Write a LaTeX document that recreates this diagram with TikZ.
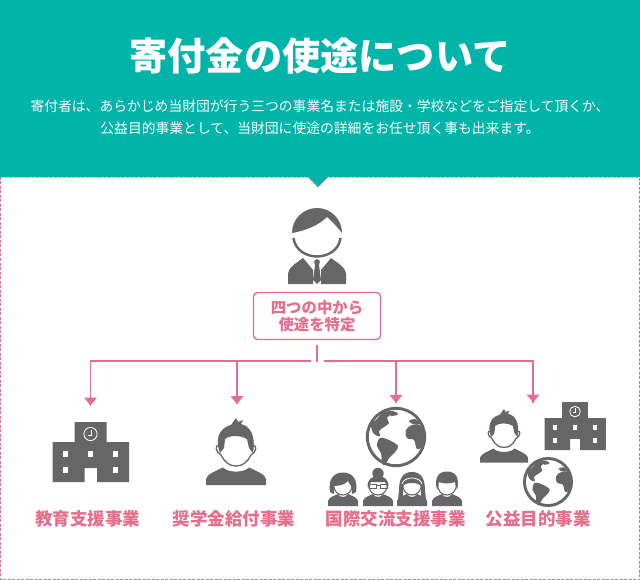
\documentclass[tikz,border=0pt]{standalone}
\usepackage{fontspec}
\setmainfont{Noto Sans CJK JP}
\definecolor{teal1}{HTML}{00B4A9}
\definecolor{pink1}{HTML}{E66E8C}
\definecolor{gray1}{HTML}{666666}
\tikzset{
 x=1pt,y=-1pt,
 conn/.style={draw=pink1,line width=1.9pt},
 tipend/.style={fill=pink1},
 lab/.style={text=pink1,font=\fontsize{17.5}{18}\selectfont\bfseries,inner sep=0pt},
 school/.pic={
  \fill[gray1] (-38,20)--(-16,20)--(-16,0)--(16,0)--(16,20)--(38.5,20)--(38.5,60)--(6.5,60)--(6.5,46)--(-6,46)--(-6,60)--(-38,60)--cycle;
  \foreach \px in {-25,0,25}{\fill[white] (\px-2.7,29)rectangle(\px+2.7,35);}
  \foreach \px in {-25,25}{\fill[white] (\px-2.7,45)rectangle(\px+2.7,51);}
  \draw[white,line width=.8pt] (0,12) circle (6.6);
  \draw[white,line width=.8pt] (1,7.5)--(1,13)--(-3,13);
 },
 spiky/.pic={
  \fill[gray1] (-30,40)--(-30,34) .. controls (-29,29) and (-20,26) .. (-13,22.5) .. controls (-8,28) and (8,28) .. (13,22.5) .. controls (20,26) and (29,29) .. (30,34)--(30,40)--cycle;
  \fill[white] (-17,1) .. controls (-21,-1) and (-21,7) .. (-15,10) .. controls (-11,18) and (-6,21) .. (0,21) .. controls (6,21) and (11,18) .. (15,10) .. controls (21,7) and (21,-1) .. (17,1) -- (0,-8)--cycle;
  \draw[gray1,line width=1.3pt] (-17,1) .. controls (-21,-1) and (-21,7) .. (-15,10) .. controls (-11,18) and (-6,21) .. (0,21) .. controls (6,21) and (11,18) .. (15,10) .. controls (21,7) and (21,-1) .. (17,1);
  \fill[gray1] (-16,8) .. controls (-20,-2) and (-20,-16) .. (-5,-20) -- (0,-27) -- (2,-23) -- (7,-25) -- (5,-21) .. controls (14,-19) and (20,-10) .. (17,8) -- (13,3) -- (11,-6) .. controls (4,-10) and (-6,-10) .. (-11,-6) -- (-12,3) -- cycle;
 },
 globe/.pic={
  \draw[gray1,line width=2.9pt] (0,0) circle (28.7);
  \fill[gray1] plot[smooth cycle,tension=.6] coordinates {(-25,-12)(-20,-17)(-12,-25)(-4,-24)(-9,-19)(-7,-14)(-12,-10)(-17,-6)(-16,-1)(-22,-3)};
  \fill[gray1] plot[smooth cycle,tension=.6] coordinates {(-16,1)(-7,3)(2,9)(-1,15)(-7,21)(-11,28)(-14,26)(-15,16)(-19,9)};
  \fill[gray1] plot[smooth cycle,tension=.6] coordinates {(10,-7)(16,-12)(24,-12)(28,-4)(28,8)(21,12)(18,3)(11,1)};
  \fill[gray1] plot[smooth cycle,tension=.6] coordinates {(13,-16)(19,-18)(24,-13)(17,-13)};
  \fill[gray1] plot[smooth cycle,tension=.6] coordinates {(-10,-25)(-3,-26)(2,-23)(-4,-21)};
 },
 minibody/.pic={
  \fill[gray1] (-15,19)--(-15,14) .. controls (-14,10) and (-9,9) .. (-5,7) .. controls (-3,11) and (3,11) .. (5,7) .. controls (9,9) and (14,10) .. (15,14)--(15,19)--cycle;
  \fill[white] (-9,-3) .. controls (-10,4) and (-5,8) .. (0,8) .. controls (5,8) and (10,4) .. (9,-3)--(0,-8)--cycle;
  \draw[gray1,line width=1.1pt] (-9,-3) .. controls (-10,4) and (-5,8) .. (0,8) .. controls (5,8) and (10,4) .. (9,-3);
 }
}
\begin{document}
\begin{tikzpicture}
\useasboundingbox (0,0) rectangle (640,580);
\fill[white] (0,0) rectangle (640,580);
\draw[pink1,line width=.8pt,dash pattern=on 3pt off 1.5pt] (.5,177)--(.5,579.5)--(639.5,579.5)--(639.5,177);
\fill[teal1] (0,0)--(640,0)--(640,177)--(328,177)--(318,187)--(308,177)--(0,177)--cycle;
\draw[pink1,line width=.5pt,dash pattern=on 3pt off 1.5pt] (0,177.3)--(308,177.3)--(318,187.3)--(328,177.3)--(640,177.3);

\node[text=white,font=\fontsize{38.2}{39}\selectfont\bfseries,inner sep=0pt] (title) at (320,56) {寄付金の使途について};
\node[text=white,font=\fontsize{13.8}{14}\selectfont,inner sep=0pt] (l1) at (320,106) {寄付者は、あらかじめ当財団が行う三つの事業名または施設・学校などをご指定して頂くか、};
\node[text=white,font=\fontsize{13.8}{14}\selectfont,inner sep=0pt] (l2) at (320,128) {公益目的事業として、当財団に使途の詳細をお任せ頂く事も出来ます。};

% main person
\fill[gray1] (292,233) arc[start angle=180,end angle=360,radius=25] .. controls (338,228) and (332,221) .. (327,217) .. controls (318,226) and (304,231) .. (292,233) -- cycle;
\draw[gray1,line width=2.4pt] (293.5,238) .. controls (295,250) and (306,256.5) .. (317,256.5) .. controls (328,256.5) and (339,250) .. (340.5,238);
\fill[gray1] (288,284)--(288,274) .. controls (289,266) and (297,263) .. (303,258) -- (313,270)--(313,284)--cycle;
\fill[gray1] (346,284)--(346,274) .. controls (345,266) and (337,263) .. (331,258) -- (321,270)--(321,284)--cycle;
\fill[gray1] (314,261)--(317,259)--(320,261)--(319,265)--(321,280)--(317,284)--(313,280)--(315,265)--cycle;

% specify box
\node[draw=pink1,line width=1.4pt,rounded corners=4pt,minimum width=127pt,minimum height=47pt,inner sep=0pt,align=center,text=pink1,font=\fontsize{15.4}{17}\selectfont\bfseries] (box) at (317,316) {四つの中から\\使途を特定};

% connectors
\coordinate (tt) at (317,345);
\coordinate (tb) at (317,362);
\coordinate (gl) at (311,361);
\coordinate (gr) at (324,361);
\coordinate (a1) at (90.5,405.5);
\coordinate (a2) at (237,404);
\coordinate (a3) at (396,403);
\coordinate (a4) at (533,402.5);
\draw[conn] (tt)--(tb);
\draw[conn] (gl)-|(a1);
\draw[conn] (gl)-|(a2);
\draw[conn] (gr)-|(a3);
\draw[conn] (gr)-|(a4);
\foreach \n in {a1,a2,a3,a4}{\fill[tipend] (\n)--++(-6.5,-8)--++(13,0)--cycle;}

% icons
\pic at (90.5,422) {school};
\pic at (236,445) {spiky};
\pic at (396,437) {globe};
\pic[scale=.8] at (575,402) {school};
\pic[scale=.8] at (504,430.6) {spiky};
\pic[scale=.82] at (548,482) {globe};

% four small people
\pic at (343,487) {minibody};
\fill[gray1] (343,472.5) .. controls (333,472.5) and (328,480) .. (330,492) -- (334,494) -- (334,486) .. controls (340,486) and (346,484) .. (348,481) .. controls (350,484) and (352,486) .. (352,494) -- (356,492) .. controls (358,480) and (353,472.5) .. (343,472.5) -- cycle;
\pic at (378,487) {minibody};
\fill[gray1] (378,473.5) circle (5.7);
\fill[gray1] (368,488) .. controls (366,480) and (372,476) .. (378,476) .. controls (384,476) and (390,480) .. (388,488) -- (385,482) -- (371,482) -- cycle;
\draw[gray1,line width=1pt] (369,484) rectangle (376,488.5) (380,484) rectangle (387,488.5) (376,485)--(380,485);
\pic at (412,487) {minibody};
\fill[gray1] (412,472) .. controls (402,472) and (399,480) .. (399,490) -- (398,500) -- (403,498) -- (403,486) .. controls (406,482) and (418,482) .. (421,486) -- (421,498) -- (426,500) -- (425,490) .. controls (425,480) and (422,472) .. (412,472) -- cycle;
\draw[white,line width=.8pt] (402,484) .. controls (404,476) and (420,476) .. (422,484);
\pic at (447,487) {minibody};
\fill[gray1] (437,490) .. controls (434,478) and (438,471.5) .. (447,471.5) .. controls (456,471.5) and (460,478) .. (457,490) -- (455,482) .. controls (450,484) and (444,484) .. (439,482) -- cycle;

% labels
\node[lab] (t1) at (87.5,518.5) {教育支援事業};
\node[lab] (t2) at (234,518.5) {奨学金給付事業};
\node[lab] (t3) at (395.5,518.5) {国際交流支援事業};
\node[lab] (t4) at (538,518.5) {公益目的事業};
\end{tikzpicture}
\end{document}
